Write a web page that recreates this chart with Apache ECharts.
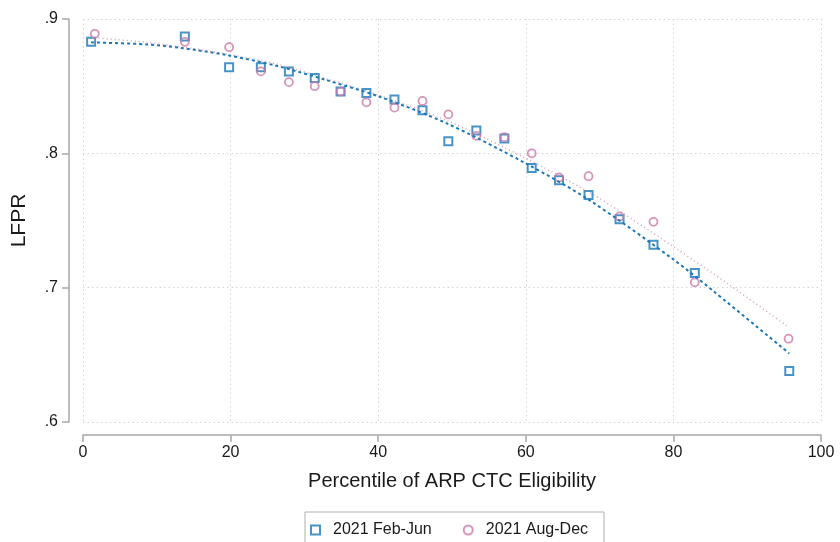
<!DOCTYPE html>
<html>
<head>
<meta charset="utf-8">
<script src="https://cdn.jsdelivr.net/npm/echarts@6/dist/echarts.min.js"></script>
<style>
  html, body { margin: 0; padding: 0; background: #fff; }
  #chart { width: 840px; height: 542px; }
</style>
</head>
<body>
<div id="chart"></div>
<script>
"use strict";
// scatter points (bin means)
var febJunX = [1.1, 13.8, 19.8, 24.1, 27.9, 31.4, 34.9, 38.4, 42.2, 46.0, 49.5, 53.3, 57.1, 60.8, 64.5, 68.5, 72.7, 77.3, 82.9, 95.7];
var febJunY = [0.883, 0.887, 0.864, 0.864, 0.861, 0.856, 0.846, 0.845, 0.840, 0.832, 0.809, 0.817, 0.811, 0.789, 0.780, 0.769, 0.751, 0.732, 0.711, 0.638];
var augDecX = [1.6, 13.8, 19.8, 24.1, 27.9, 31.4, 34.9, 38.4, 42.2, 46.0, 49.5, 53.3, 57.1, 60.8, 64.5, 68.5, 72.7, 77.3, 82.9, 95.6];
var augDecY = [0.889, 0.883, 0.879, 0.861, 0.853, 0.850, 0.846, 0.838, 0.834, 0.839, 0.829, 0.813, 0.812, 0.800, 0.782, 0.783, 0.753, 0.749, 0.704, 0.662];

// fitted curves
var febJunFitX = [1.1, 8.6, 13.1, 19.4, 26.2, 33.0, 40.2, 49.3, 60.0, 68.6, 80.1, 85.3, 95.7];
var febJunFitY = [0.8826, 0.8811, 0.8786, 0.8732, 0.8652, 0.8545, 0.8421, 0.8223, 0.7925, 0.7652, 0.7206, 0.698, 0.651];
var augDecFitX = [1.6, 8.6, 13.1, 19.4, 26.2, 33.0, 40.2, 49.3, 60.0, 68.6, 72.7, 80.3, 87.6, 95.4];
var augDecFitY = [0.886, 0.8826, 0.8794, 0.874, 0.8665, 0.8555, 0.843, 0.8245, 0.7963, 0.771, 0.757, 0.7295, 0.702, 0.6714];

var seriesNames = ["2021 Feb-Jun", "2021 Aug-Dec"];
var xTicks = { min: 0, max: 100, interval: 20 };
var yTicks = { min: 0.6, max: 0.9, interval: 0.1 };

var blue = "#1a78b8";
var pink = "#cc79a7";
var font = "Liberation Sans, Arial, Helvetica, sans-serif";

function pairs(xs, ys) {
    return xs.map(function (x, i) { return [x, ys[i]]; });
}

var gridLine = { show: true, lineStyle: { color: "#d4d4d4", width: 1, type: [1.5, 3] } };
var axisLine = { show: true, onZero: false, lineStyle: { color: "#a8a8a8", width: 1.5 } };
var axisTick = { show: true, length: 7, lineStyle: { color: "#a8a8a8", width: 1.5 } };

var option = {
    animation: false,
    backgroundColor: "#fff",
    grid: { left: 83, right: 19, top: 19, bottom: 120, outerBoundsMode: "none", containLabel: false },
    legend: {
        left: 305,
        top: 512,
        orient: "horizontal",
        borderColor: "#b0b0b0",
        borderWidth: 1,
        padding: [10, 16, 30, 5],
        itemWidth: 9,
        itemHeight: 9,
        itemGap: 31,
        textStyle: { fontFamily: font, fontSize: 16, color: "#1a1a1a", padding: [0, 0, 0, 8] },
        data: [
            { name: seriesNames[0], icon: "rect", itemStyle: { color: "#fff", borderColor: blue, borderWidth: 2 } },
            { name: seriesNames[1], icon: "circle", itemStyle: { color: "#fff", borderColor: pink, borderWidth: 2 } }
        ]
    },
    xAxis: {
        type: "value",
        min: xTicks.min,
        max: xTicks.max,
        interval: xTicks.interval,
        offset: 13,
        name: "Percentile of ARP CTC Eligibility",
        nameLocation: "middle",
        nameGap: 36,
        nameTextStyle: { fontFamily: font, fontSize: 20, color: "#1a1a1a" },
        axisLine: axisLine,
        axisTick: axisTick,
        axisLabel: { fontFamily: font, fontSize: 16, color: "#1a1a1a", margin: 10 },
        splitLine: gridLine
    },
    yAxis: {
        type: "value",
        min: yTicks.min,
        max: yTicks.max,
        interval: yTicks.interval,
        offset: 14,
        name: "LFPR",
        nameLocation: "middle",
        nameGap: 39,
        nameRotate: 90,
        nameTextStyle: { fontFamily: font, fontSize: 21, color: "#1a1a1a" },
        axisLine: axisLine,
        axisTick: axisTick,
        axisLabel: {
            fontFamily: font, fontSize: 16, color: "#1a1a1a", margin: 11,
            formatter: function (v) { return v.toFixed(1).replace(/^0/, ""); }
        },
        splitLine: gridLine
    },
    series: [
        {
            name: seriesNames[0],
            type: "scatter",
            symbol: "rect",
            symbolSize: 8,
            z: 2,
            itemStyle: { color: "#fff", borderColor: blue, borderWidth: 2 },
            data: pairs(febJunX, febJunY)
        },
        {
            name: seriesNames[1],
            type: "scatter",
            symbol: "circle",
            symbolSize: 8,
            z: 2,
            itemStyle: { color: "rgba(255,255,255,0)", borderColor: pink, borderWidth: 1.8 },
            data: pairs(augDecX, augDecY)
        },
        {
            type: "line",
            showSymbol: false,
            smooth: 0.3,
            z: 3,
            silent: true,
            lineStyle: { color: pink, width: 1.5, type: [1, 3], opacity: 0.75 },
            data: pairs(augDecFitX, augDecFitY)
        },
        {
            type: "line",
            showSymbol: false,
            smooth: 0.3,
            z: 4,
            silent: true,
            lineStyle: { color: blue, width: 2, type: [3, 3] },
            data: pairs(febJunFitX, febJunFitY)
        }
    ]
};

var chart = echarts.init(document.getElementById("chart"), null, { renderer: "canvas" });
chart.setOption(option);
</script>
</body>
</html>
